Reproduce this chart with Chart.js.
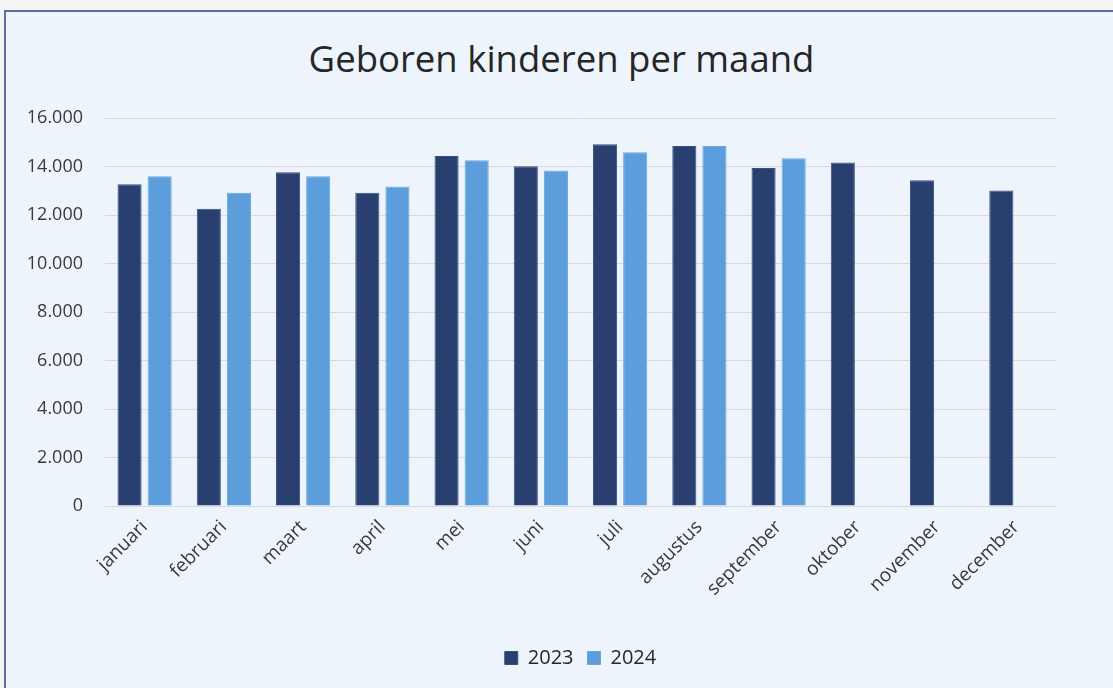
<!DOCTYPE html>
<html>
<head>
<meta charset="utf-8">
<script src="https://cdn.jsdelivr.net/npm/chart.js@4"></script>
<style>
  body { margin: 0; background: #f4f4f4; overflow: hidden; }
  #frame {
    position: absolute; left: 4px; top: 10px;
    width: 1120px; height: 700px;
    border: 2px solid #5b6e9c;
    background: #edf4fb;
  }
  #title {
    position: absolute; left: 0; top: 24px; width: 1111px;
    text-align: center; line-height: 44px;
    font-family: 'Open Sans', sans-serif; font-size: 36.5px; color: #262626;
  }
  #wrap { position: absolute; left: 0; top: 0; width: 1107px; height: 676px; }
</style>
</head>
<body>
<div id="frame">
  <div id="title">Geboren kinderen per maand</div>
  <div id="wrap"><canvas id="myChart"></canvas></div>
</div>
<script>
  // Data
  var months = ['januari', 'februari', 'maart', 'april', 'mei', 'juni', 'juli',
                'augustus', 'september', 'oktober', 'november', 'december'];
  var births2023 = [13270, 12260, 13760, 12920, 14430, 14010, 14920, 14850, 13940, 14170, 13430, 13010];
  var births2024 = [13600, 12920, 13600, 13180, 14260, 13840, 14590, 14850, 14340, null, null, null];
  var yTicks = [0, 2000, 4000, 6000, 8000, 10000, 12000, 14000, 16000];

  function fmt(v) {
    return String(v).replace(/\B(?=(\d{3})+(?!\d))/g, '.');
  }

  var ctx = document.getElementById('myChart').getContext('2d');

  var data = {
    labels: months,
    datasets: [
      {
        label: '2023',
        data: births2023,
        backgroundColor: '#283f70',
        borderColor: '#3a4f7e',
        borderWidth: 1,
        barPercentage: 0.8,
        categoryPercentage: 0.76,
      },
      {
        label: '2024',
        data: births2024,
        backgroundColor: '#5b9edb',
        borderColor: '#6aa7de',
        borderWidth: 1,
        barPercentage: 0.8,
        categoryPercentage: 0.76,
      },
    ],
  };

  var options = {
    responsive: true,
    maintainAspectRatio: false,
    animation: false,
    layout: { padding: { left: 19, right: 57, top: 106, bottom: 10 } },
    plugins: {
      title: { display: false },
      legend: {
        position: 'bottom',
        fullSize: false,
        labels: {
          color: '#262626',
          font: { family: 'Open Sans', size: 20 },
          boxWidth: 13,
          boxHeight: 13,
          padding: 14,
        },
      },
      tooltip: { enabled: false },
    },
    scales: {
      x: {
        grid: { display: false },
        border: { color: '#d9d9d9' },
        afterFit: function (axis) {
          axis.height = 128;
          axis.paddingLeft = 0;
          axis.paddingRight = 0;
        },
        ticks: {
          color: '#3a3a3a',
          font: { family: 'Open Sans', size: 19 },
          minRotation: 45,
          maxRotation: 45,
          padding: 2,
        },
      },
      y: {
        min: 0,
        max: 16000,
        afterBuildTicks: function (axis) {
          axis.ticks = yTicks.map(function (v) { return { value: v }; });
        },
        afterFit: function (axis) { axis.width = 80; },
        grid: { color: '#d9d9d9', drawTicks: false },
        border: { display: false },
        ticks: {
          color: '#3a3a3a',
          font: { family: 'Open Sans', size: 18 },
          padding: 22,
          callback: function (v) { return fmt(v); },
        },
      },
    },
  };

  var chart = new Chart(ctx, {
    type: 'bar',
    data: data,
    options: options,
  });
</script>
</body>
</html>
